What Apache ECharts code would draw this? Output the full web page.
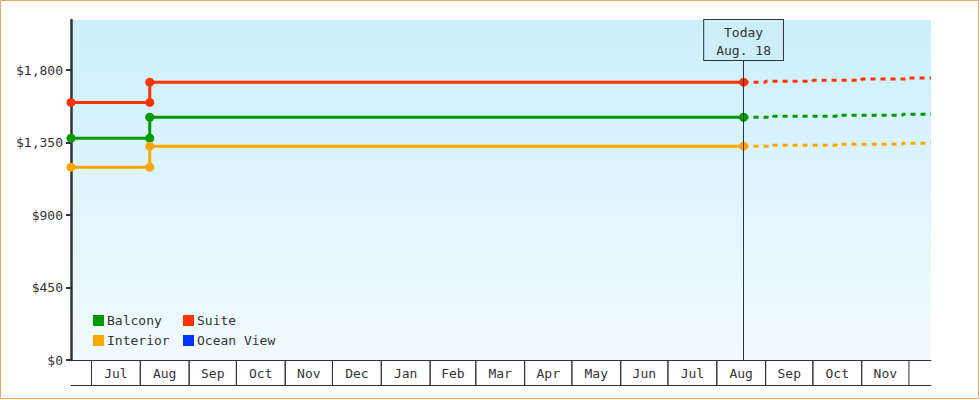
<!DOCTYPE html>
<html>
<head>
<meta charset="utf-8">
<script src="https://cdn.jsdelivr.net/npm/echarts@6/dist/echarts.min.js"></script>
<style>
html,body{margin:0;padding:0;background:#fff;}
#chart{width:980px;height:400px;}
</style>
</head>
<body>
<div id="chart"></div>
<script>
// ---- data ----
const axisStart = '2023-06-18';
const axisEnd = '2024-12-15';
const today = '2024-08-18';
const todayLabel = 'Today\nAug. 18';
const priceChangeDate = '2023-08-07';

const monthStarts = ['2023-07-01','2023-08-01','2023-09-01','2023-10-01','2023-11-01','2023-12-01',
  '2024-01-01','2024-02-01','2024-03-01','2024-04-01','2024-05-01','2024-06-01','2024-07-01',
  '2024-08-01','2024-09-01','2024-10-01','2024-11-01','2024-12-01'];
const monthLabels = ['Jul','Aug','Sep','Oct','Nov','Dec','Jan','Feb','Mar','Apr','May','Jun','Jul','Aug','Sep','Oct','Nov'];
const yTicks = [0, 450, 900, 1350, 1800];
const yMax = 2112;

const balconyPast = [[axisStart,1378],[priceChangeDate,1378],[priceChangeDate,1508],[today,1508]];
const balconyForecast = [[today,1508],['2024-09-06',1514],['2024-10-16',1520],['2024-11-27',1527],[axisEnd,1527]];
const suitePast = [[axisStart,1600],[priceChangeDate,1600],[priceChangeDate,1726],[today,1726]];
const suiteForecast = [[today,1726],['2024-09-01',1732],['2024-10-01',1738],['2024-11-01',1745],['2024-11-29',1751],[axisEnd,1751]];
const interiorPast = [[axisStart,1198],[priceChangeDate,1198],[priceChangeDate,1328],[today,1328]];
const interiorForecast = [[today,1328],['2024-09-06',1334],['2024-10-16',1340],['2024-11-27',1347],[axisEnd,1347]];
const oceanView = [];

const colors = {Balcony:'#009900', Suite:'#ff3300', Interior:'#ffa500', 'Ocean View':'#0033ff'};

// ---- helpers ----
const FONT = 'DejaVu Sans Mono';
const monthBands = monthLabels.map((_, i) => [monthStarts[i], monthStarts[i + 1], 0]);

const chart = echarts.init(document.getElementById('chart'), null, {renderer: 'svg'});

function pastSeries(name, data) {
  return {
    name, type: 'line', data, z: 4,
    symbol: 'circle', symbolSize: 9, showSymbol: true,
    itemStyle: {color: colors[name]},
    lineStyle: {color: colors[name], width: 3},
    emphasis: {disabled: true}, silent: true, animation: false
  };
}
function forecastSeries(name, data) {
  return {
    name, type: 'line', data, z: 3, step: 'end',
    symbol: 'none', showSymbol: false,
    itemStyle: {color: colors[name]},
    lineStyle: {color: colors[name], width: 3, type: [5, 5]},
    emphasis: {disabled: true}, silent: true, animation: false
  };
}

const suiteSolid = pastSeries('Suite', suitePast);
suiteSolid.markLine = {
  silent: true, symbol: 'none', animation: false,
  lineStyle: {color: '#333', width: 1, type: 'solid'},
  label: {
    show: true, position: 'end', distance: -40,
    formatter: todayLabel,
    fontFamily: FONT, fontSize: 13, lineHeight: 18, color: '#333',
    backgroundColor: '#cdeffc', borderColor: '#333', borderWidth: 1,
    padding: [3, 12, 1, 12]
  },
  emphasis: {disabled: true},
  data: [{xAxis: today}]
};

const monthSeries = {
  type: 'custom', name: 'months', silent: true, clip: false, z: 10, animation: false,
  xAxisIndex: 0, yAxisIndex: 0,
  encode: {x: [0, 1], y: 2},
  data: monthBands,
  renderItem: (params, api) => {
    const p0 = api.coord([api.value(0), 0]);
    const p1 = api.coord([api.value(1), 0]);
    const y = p0[1];
    return {
      type: 'group',
      children: [
        {type: 'line', shape: {x1: p0[0], y1: y, x2: p0[0], y2: y + 25}, style: {stroke: '#333', lineWidth: 1}},
        {type: 'line', shape: {x1: p1[0], y1: y, x2: p1[0], y2: y + 25}, style: {stroke: '#333', lineWidth: 1}},
        {type: 'text', style: {text: monthLabels[params.dataIndex], x: (p0[0] + p1[0]) / 2, y: y + 13,
          textAlign: 'center', textVerticalAlign: 'middle', font: '13px ' + FONT, fill: '#333'}}
      ]
    };
  }
};

const legendText = {fontFamily: FONT, fontSize: 13, color: '#333', padding: [0, 0, 0, -2]};

const option = {
  backgroundColor: '#ffffff',
  animation: false,
  grid: {
    left: 71, right: 49, top: 20, bottom: 40, show: true, borderWidth: 0,
    backgroundColor: {type: 'linear', x: 0, y: 0, x2: 0, y2: 1,
      colorStops: [{offset: 0, color: '#cbeffc'}, {offset: 1, color: '#f2fbfe'}]}
  },
  legend: [
    {data: ['Balcony', 'Interior'], orient: 'vertical', left: 88, top: 309,
     icon: 'rect', itemWidth: 11, itemHeight: 11, itemGap: 7, selectedMode: false,
     textStyle: legendText},
    {data: ['Suite', 'Ocean View'], orient: 'vertical', left: 178, top: 309,
     icon: 'rect', itemWidth: 11, itemHeight: 11, itemGap: 7, selectedMode: false,
     textStyle: legendText}
  ],
  xAxis: [
    {
      type: 'time', min: axisStart, max: axisEnd, position: 'bottom',
      axisLine: {show: true, lineStyle: {color: '#333', width: 1}},
      axisTick: {show: false}, axisLabel: {show: false}, splitLine: {show: false}
    },
    {
      type: 'time', min: axisStart, max: axisEnd, position: 'bottom', offset: 25,
      axisLine: {show: true, lineStyle: {color: '#333', width: 1}},
      axisTick: {show: false}, axisLabel: {show: false}, splitLine: {show: false}
    }
  ],
  yAxis: {
    type: 'value', min: 0, max: yMax,
    axisLine: {show: true, lineStyle: {color: '#333', width: 2.5}},
    axisTick: {show: true, length: 5, customValues: yTicks, lineStyle: {color: '#333', width: 2}},
    axisLabel: {
      show: true, customValues: yTicks, margin: 8,
      fontFamily: FONT, fontSize: 13, color: '#333',
      formatter: v => '$' + Number(v).toLocaleString('en-US')
    },
    splitLine: {show: false}
  },
  graphic: [{
    type: 'rect', silent: true, z: 100,
    shape: {x: 0.5, y: 0.5, width: 978, height: 398},
    style: {fill: 'none', stroke: '#e9a965', lineWidth: 1}
  }],
  series: [
    forecastSeries('Balcony', balconyForecast),
    forecastSeries('Suite', suiteForecast),
    forecastSeries('Interior', interiorForecast),
    pastSeries('Balcony', balconyPast),
    suiteSolid,
    pastSeries('Interior', interiorPast),
    {name: 'Ocean View', type: 'line', data: oceanView, itemStyle: {color: colors['Ocean View']},
     lineStyle: {color: colors['Ocean View']}},
    monthSeries
  ]
};
chart.setOption(option);
</script>
</body>
</html>
